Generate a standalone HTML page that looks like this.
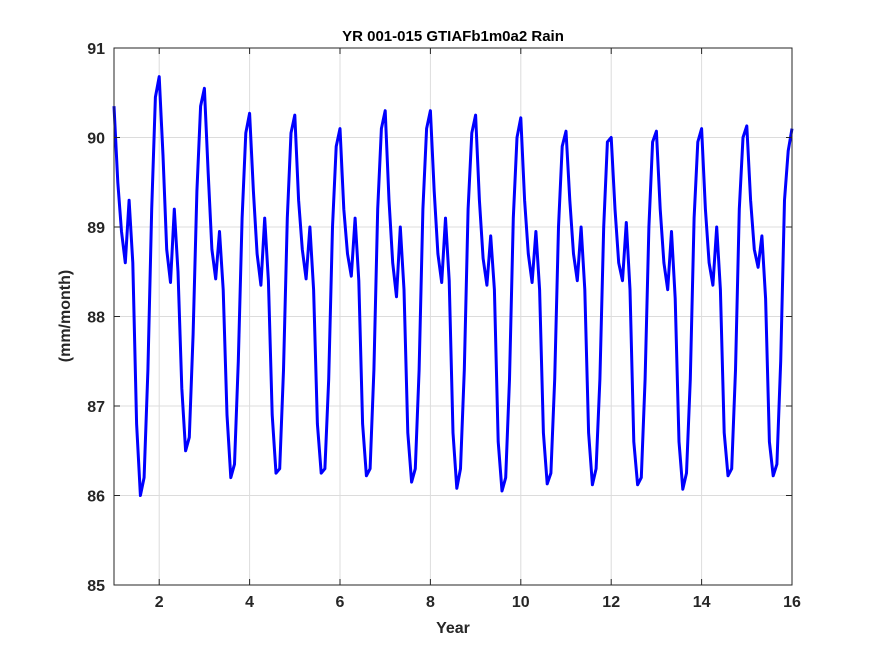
<!DOCTYPE html>
<html><head><meta charset="utf-8"><style>
body{margin:0;background:#fff;}
svg{display:block;font-family:"Liberation Sans",sans-serif;}
</style></head><body>
<svg id="chart" width="875" height="656" viewBox="0 0 875 656">
<rect width="875" height="656" fill="#fff"/>
<g id="grid"></g>
<g id="plot"></g>
<rect x="114" y="48" width="678" height="537" fill="none" stroke="#262626" stroke-width="1"/>
<g id="ticks"></g>
<text x="453" y="41" text-anchor="middle" font-size="15" font-weight="bold" fill="#000">YR 001-015 GTIAFb1m0a2 Rain</text>
<text x="453" y="633" text-anchor="middle" font-size="16" font-weight="bold" fill="#262626">Year</text>
<text transform="translate(70,316) rotate(-90)" text-anchor="middle" font-size="16" font-weight="bold" fill="#262626">(mm/month)</text>
</svg>
<script>
const xTicks = [2,4,6,8,10,12,14,16];
const yTicks = [85,86,87,88,89,90,91];
const rain = [
90.35,89.5,88.95,88.6,89.3,88.6,86.8,86.0,86.2,87.4,89.2,90.45,
90.68,89.8,88.75,88.38,89.2,88.5,87.2,86.5,86.65,87.8,89.4,90.35,
90.55,89.6,88.75,88.42,88.95,88.3,86.9,86.2,86.35,87.5,89.1,90.05,
90.27,89.4,88.7,88.35,89.1,88.4,86.9,86.25,86.3,87.4,89.1,90.05,
90.25,89.3,88.75,88.42,89.0,88.3,86.8,86.25,86.3,87.3,89.0,89.9,
90.1,89.2,88.7,88.45,89.1,88.4,86.8,86.22,86.3,87.4,89.2,90.1,
90.3,89.3,88.6,88.22,89.0,88.3,86.7,86.15,86.3,87.4,89.2,90.1,
90.3,89.4,88.7,88.38,89.1,88.4,86.7,86.08,86.3,87.4,89.2,90.05,
90.25,89.3,88.65,88.35,88.9,88.3,86.6,86.05,86.2,87.3,89.1,90.0,
90.22,89.3,88.7,88.38,88.95,88.3,86.7,86.13,86.25,87.3,89.0,89.9,
90.07,89.3,88.7,88.4,89.0,88.3,86.7,86.12,86.3,87.3,89.0,89.95,
90.0,89.2,88.6,88.4,89.05,88.3,86.6,86.12,86.2,87.3,89.0,89.95,
90.07,89.2,88.6,88.3,88.95,88.2,86.6,86.07,86.25,87.3,89.1,89.95,
90.1,89.2,88.6,88.35,89.0,88.3,86.7,86.22,86.3,87.4,89.2,90.0,
90.13,89.3,88.75,88.55,88.9,88.2,86.6,86.22,86.35,87.5,89.3,89.85,
90.1];
const xMin=1, xMax=16, yMin=85, yMax=91;
const L=114, R=792, T=48, B=585;
const NS="http://www.w3.org/2000/svg";
function sx(v){return L+(v-xMin)/(xMax-xMin)*(R-L);}
function sy(v){return B-(v-yMin)/(yMax-yMin)*(B-T);}
function mk(tag,attrs,parent){const e=document.createElementNS(NS,tag);for(const k in attrs)e.setAttribute(k,attrs[k]);parent.appendChild(e);return e;}
const grid=document.getElementById('grid'), ticks=document.getElementById('ticks'), plot=document.getElementById('plot');
xTicks.forEach(v=>{
  const g=mk('line',{x1:sx(v),x2:sx(v),y1:T,y2:B,stroke:'#dcdcdc','stroke-width':1},grid);
  
  
  mk('line',{x1:sx(v),x2:sx(v),y1:B,y2:B-6,stroke:'#262626'},ticks);
  mk('line',{x1:sx(v),x2:sx(v),y1:T,y2:T+6,stroke:'#262626'},ticks);
  const t=mk('text',{x:sx(v),y:B+22,'text-anchor':'middle','font-size':16,'font-weight':'bold',fill:'#262626'},ticks);
  t.textContent=v;
  
  
});
yTicks.forEach(v=>{
  const g=mk('line',{x1:L,x2:R,y1:sy(v),y2:sy(v),stroke:'#dcdcdc','stroke-width':1},grid);
  
  
  mk('line',{x1:L,x2:L+6,y1:sy(v),y2:sy(v),stroke:'#262626'},ticks);
  mk('line',{x1:R,x2:R-6,y1:sy(v),y2:sy(v),stroke:'#262626'},ticks);
  const t=mk('text',{x:L-9,y:sy(v)+6,'text-anchor':'end','font-size':16,'font-weight':'bold',fill:'#262626'},ticks);
  t.textContent=v;
  
  
});
const pts=rain.map((v,i)=>sx(xMin+i/12).toFixed(1)+','+sy(v).toFixed(1)).join(' ');
const line=mk('polyline',{points:pts,fill:'none',stroke:'#0000ff','stroke-width':3,'stroke-linejoin':'round'},plot);


</script>
</body></html>
